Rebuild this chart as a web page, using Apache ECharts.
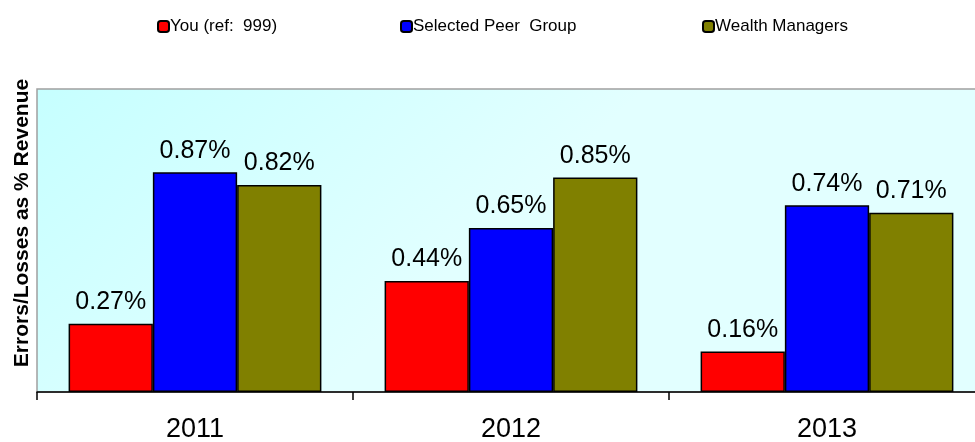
<!DOCTYPE html>
<html>
<head>
<meta charset="utf-8">
<script src="https://cdn.jsdelivr.net/npm/echarts@6/dist/echarts.min.js"></script>
<style>
  html, body { margin: 0; padding: 0; background: #fff; overflow: hidden; }
  #chart { width: 975px; height: 442px; }
</style>
</head>
<body>
<div id="chart"></div>
<script>
// Error/loss ratios by year for the firm, its peer group and wealth managers
const years = ['2011', '2012', '2013'];
const youValues = [0.27, 0.44, 0.16];
const peerValues = [0.87, 0.65, 0.74];
const wealthValues = [0.82, 0.85, 0.71];
const seriesNames = ['You (ref:  999)', 'Selected Peer  Group', 'Wealth Managers'];
const seriesColors = ['#ff0000', '#0000ff', '#808000'];
const yAxisTitle = 'Errors/Losses as % Revenue';

const chart = echarts.init(document.getElementById('chart'), null, { renderer: 'canvas' });

const baseFont = 'Arial, "Liberation Sans", sans-serif';
const legendLefts = [152, 395, 697];

function makeSeries(name, values, color) {
  return {
    name: name,
    type: 'bar',
    data: values,
    barGap: '0%',
    barCategoryGap: '20%',
    itemStyle: { color: color, borderColor: '#000', borderWidth: 1.5 },
    label: {
      show: true,
      position: 'top',
      distance: 9,
      fontFamily: baseFont,
      fontSize: 25,
      color: '#000',
      formatter: p => p.value.toFixed(2) + '%'
    }
  };
}

chart.setOption({
  animation: false,
  backgroundColor: '#fff',
  legend: seriesNames.map((n, i) => ({
    data: [n],
    left: legendLefts[i],
    top: 13,
    itemWidth: 11,
    itemHeight: 11,
    itemGap: 0,
    textStyle: { fontFamily: baseFont, fontSize: 17, color: '#000', padding: [0, 0, 0, -4] }
  })),
  grid: {
    // the plot runs a little past the right edge of the canvas
    outerBoundsMode: 'none',
    containLabel: false,
    left: 37,
    top: 89,
    width: 948,
    height: 303,
    show: true,
    borderColor: '#a0a0a0',
    borderWidth: 1.5,
    backgroundColor: {
      type: 'linear', x: 0, y: 0, x2: 0.3, y2: 1,
      colorStops: [
        { offset: 0, color: '#c6ffff' },
        { offset: 1, color: '#e2ffff' }
      ]
    }
  },
  xAxis: {
    type: 'category',
    data: years,
    axisLine: { lineStyle: { color: '#000', width: 1.5 } },
    axisTick: { show: true, length: 8, lineStyle: { color: '#000', width: 1.5 } },
    axisLabel: { margin: 24, fontFamily: baseFont, fontSize: 27, color: '#000' }
  },
  yAxis: {
    type: 'value',
    min: 0,
    max: 1.2,
    axisLine: { show: false },
    axisTick: { show: false },
    axisLabel: { show: false },
    splitLine: { show: false }
  },
  graphic: [{
    type: 'text',
    x: 22,
    y: 223,
    rotation: Math.PI / 2,
    style: {
      text: yAxisTitle,
      fontFamily: baseFont,
      fontSize: 21,
      fontWeight: 'bold',
      fill: '#000',
      align: 'center',
      verticalAlign: 'middle'
    }
  }],
  series: [
    makeSeries(seriesNames[0], youValues, seriesColors[0]),
    makeSeries(seriesNames[1], peerValues, seriesColors[1]),
    makeSeries(seriesNames[2], wealthValues, seriesColors[2])
  ]
});
</script>
</body>
</html>
